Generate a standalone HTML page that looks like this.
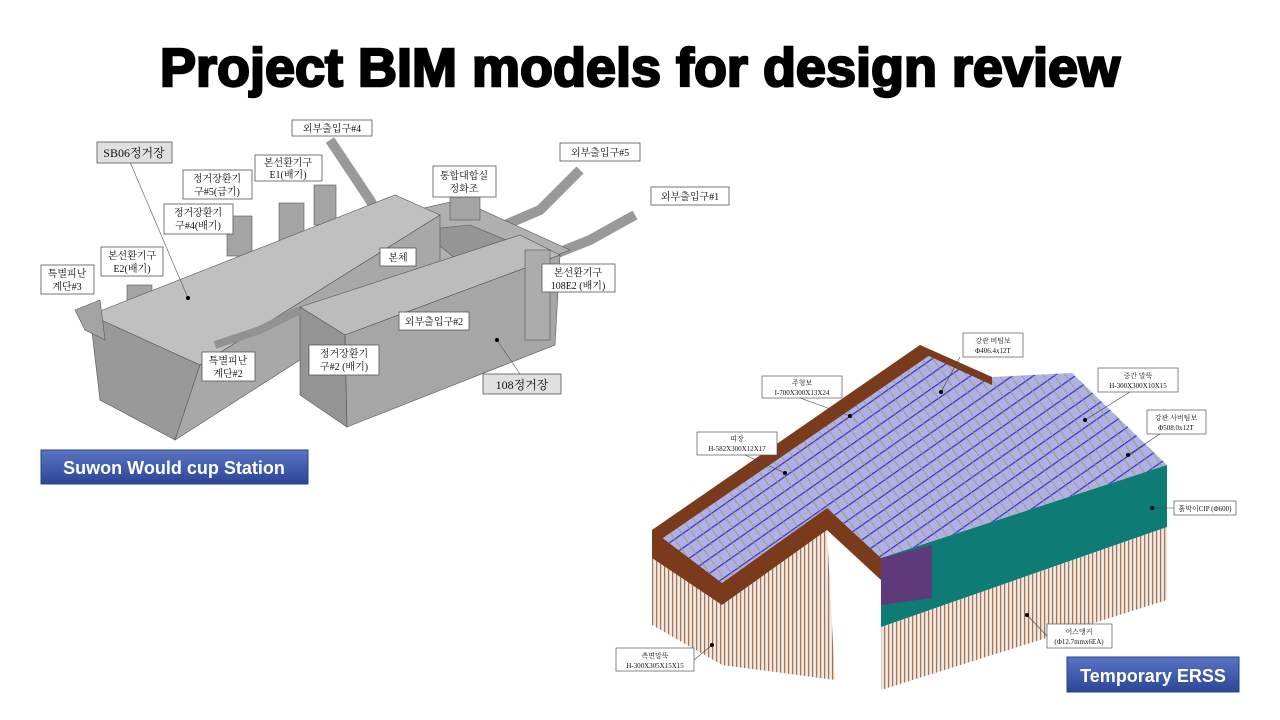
<!DOCTYPE html>
<html><head><meta charset="utf-8"><style>
html,body{margin:0;padding:0;background:#fff;}
svg{display:block}
.lb{font-family:"Liberation Serif","Noto Serif CJK SC","Noto Sans CJK KR",serif;font-size:10px;fill:#111;}
.ls{font-family:"Liberation Serif","Noto Serif CJK SC","Noto Sans CJK KR",serif;font-size:7px;fill:#111;}
</style></head><body>
<svg width="1280" height="720" viewBox="0 0 1280 720" xmlns="http://www.w3.org/2000/svg">
<defs>
<linearGradient id="bt" x1="0" y1="0" x2="0" y2="1"><stop offset="0" stop-color="#5a74c4"/><stop offset="1" stop-color="#2c4596"/></linearGradient>
<pattern id="piles" width="4" height="10" patternUnits="userSpaceOnUse"><rect width="4" height="10" fill="#efe6e0"/><rect x="0" width="1.2" height="10" fill="#a07258"/></pattern>
<pattern id="grid" width="9" height="12" patternUnits="userSpaceOnUse" patternTransform="rotate(-35)"><rect width="9" height="12" fill="#b0b0e4"/><rect width="9" height="1.2" fill="#3030c8"/><rect width="0.8" height="12" fill="#9a9a68"/></pattern>
</defs>
<rect width="1280" height="720" fill="#fff"/>
<text x="640" y="86" text-anchor="middle" textLength="960" lengthAdjust="spacingAndGlyphs" font-family="Liberation Sans, sans-serif" font-weight="bold" font-size="54" fill="#000" stroke="#000" stroke-width="2.4">Project BIM models for design review</text>

<!-- LEFT MODEL -->
<g stroke="#555" stroke-width="0.6">
<polyline points="330,140 370,200 385,225" fill="none" stroke="#999" stroke-width="10"/>
<polyline points="580,170 540,210 470,240 440,255" fill="none" stroke="#999" stroke-width="10"/>
<polyline points="635,215 590,240 540,260 500,275" fill="none" stroke="#999" stroke-width="10"/>
<polygon points="370,220 460,200 570,250 470,290 380,270" fill="#b0b0b0"/>
<polygon points="420,230 470,225 530,250 470,270" fill="#959595"/>
<rect x="227" y="216" width="25" height="40" fill="#a4a4a4"/>
<rect x="279" y="203" width="25" height="40" fill="#a4a4a4"/>
<rect x="314" y="185" width="22" height="40" fill="#a4a4a4"/>
<rect x="127" y="285" width="25" height="40" fill="#a4a4a4"/>
<rect x="450" y="195" width="30" height="25" fill="#a4a4a4"/>
<polygon points="90,315 395,195 440,215 200,365" fill="#c0c0c0"/>
<polygon points="90,315 200,365 175,440 100,400" fill="#999"/>
<polygon points="200,365 440,215 440,270 300,360 175,440" fill="#a8a8a8"/>
<polygon points="75,310 100,300 105,340 85,330" fill="#a4a4a4"/>
<polygon points="300,307 520,235 560,255 345,335" fill="#bcbcbc"/>
<polygon points="300,307 345,335 347,427 300,395" fill="#949494"/>
<polygon points="345,335 560,255 555,345 347,427" fill="#a6a6a6"/>
<rect x="525" y="250" width="25" height="90" fill="#acacac"/>
<polyline points="215,345 260,330 300,310" fill="none" stroke="#929292" stroke-width="8"/>
</g>
<g stroke="#555" stroke-width="0.6" fill="none">
<line x1="130" y1="162" x2="188" y2="298"/><line x1="497" y1="340" x2="520" y2="374"/>
</g>
<circle cx="188" cy="298" r="2" fill="#000"/><circle cx="497" cy="340" r="2" fill="#000"/>
<g stroke="#555" stroke-width="0.8" fill="#fff">
<rect x="292" y="120" width="80" height="16"/>
<rect x="97" y="142" width="75" height="21" fill="#e0e0e0"/>
<rect x="255" y="155" width="67" height="26"/>
<rect x="433" y="166" width="63" height="31"/>
<rect x="560" y="143" width="80" height="18"/>
<rect x="183" y="170" width="69" height="29"/>
<rect x="651" y="187" width="78" height="18"/>
<rect x="164" y="204" width="69" height="30"/>
<rect x="101" y="247" width="62" height="29"/>
<rect x="380" y="248" width="36" height="18"/>
<rect x="41" y="265" width="53" height="29"/>
<rect x="542" y="264" width="73" height="28"/>
<rect x="399" y="312" width="70" height="18"/>
<rect x="202" y="352" width="53" height="29"/>
<rect x="309" y="345" width="70" height="30"/>
<rect x="483" y="374" width="78" height="20" fill="#e0e0e0"/>
</g>
<g class="lb" text-anchor="middle">
<text x="332" y="132">외부출입구#4</text>
<text x="134" y="157" font-size="12">SB06정거장</text>
<text x="288" y="166">본선환기구</text><text x="288" y="178">E1(배기)</text>
<text x="464" y="179">통합대합실</text><text x="464" y="192">정화조</text>
<text x="600" y="156">외부출입구#5</text>
<text x="217" y="182">정거장환기</text><text x="217" y="195">구#5(급기)</text>
<text x="690" y="200">외부출입구#1</text>
<text x="198" y="216">정거장환기</text><text x="198" y="229">구#4(배기)</text>
<text x="132" y="259">본선환기구</text><text x="132" y="272">E2(배기)</text>
<text x="398" y="261">본체</text>
<text x="67" y="277">특별피난</text><text x="67" y="290">계단#3</text>
<text x="578" y="276">본선환기구</text><text x="578" y="289">108E2 (배기)</text>
<text x="434" y="325">외부출입구#2</text>
<text x="228" y="364">특별피난</text><text x="228" y="377">계단#2</text>
<text x="344" y="357">정거장환기</text><text x="344" y="370">구#2 (배기)</text>
<text x="522" y="389" font-size="12">108정거장</text>
</g>
<rect x="41" y="450" width="267" height="34" fill="url(#bt)" stroke="#2a3f88"/>
<text x="174" y="474" text-anchor="middle" font-family="Liberation Sans, sans-serif" font-weight="bold" font-size="18" fill="#fff">Suwon Would cup Station</text>

<!-- RIGHT MODEL -->
<polygon points="652,558 722,605 722,665 652,625" fill="url(#piles)"/>
<polygon points="722,605 827,530 835,680 722,665" fill="url(#piles)"/>
<polygon points="881,627 1167,527 1167,600 881,690" fill="url(#piles)"/>
<polygon points="652,530 920,345 992,377 1072,373 1167,465 881,558 827,508 722,583" fill="url(#grid)"/>
<polygon points="652,530 920,345 930,355 660,540" fill="#7a3a1c"/>
<polygon points="652,530 722,583 722,605 652,558" fill="#7a3a1c"/>
<polygon points="722,583 827,508 827,530 722,605" fill="#7a3a1c"/>
<polygon points="827,508 881,558 881,580 827,530" fill="#7a3a1c"/>
<polygon points="920,345 992,377 992,385 920,352" fill="#7a3a1c"/>
<polygon points="881,558 1167,465 1167,527 881,627" fill="#0e7b74"/>
<polygon points="881,558 932,545 932,598 881,605" fill="#5e3a7a"/>
<g stroke="#444" stroke-width="0.6" fill="none">
<line x1="960" y1="357" x2="941" y2="392"/><line x1="800" y1="398" x2="850" y2="416"/>
<line x1="1130" y1="392" x2="1085" y2="420"/><line x1="1160" y1="434" x2="1128" y2="455"/>
<line x1="745" y1="455" x2="785" y2="473"/><line x1="1174" y1="508" x2="1152" y2="508"/>
<line x1="1047" y1="636" x2="1027" y2="615"/><line x1="694" y1="660" x2="712" y2="645"/>
</g>
<g fill="#000"><circle cx="941" cy="392" r="2"/><circle cx="850" cy="416" r="2"/><circle cx="1085" cy="420" r="2"/><circle cx="1128" cy="455" r="2"/><circle cx="785" cy="473" r="2"/><circle cx="1152" cy="508" r="2"/><circle cx="1027" cy="615" r="2"/><circle cx="712" cy="645" r="2"/></g>
<g stroke="#555" stroke-width="0.7" fill="#fff">
<rect x="963" y="333" width="60" height="24"/>
<rect x="762" y="376" width="80" height="22"/>
<rect x="1098" y="368" width="80" height="24"/>
<rect x="1147" y="410" width="59" height="24"/>
<rect x="697" y="432" width="80" height="23"/>
<rect x="1174" y="501" width="62" height="14"/>
<rect x="1047" y="624" width="65" height="24"/>
<rect x="616" y="648" width="78" height="23"/>
</g>
<g class="ls" text-anchor="middle">
<text x="993" y="343">강관 버팀보</text><text x="993" y="353">Φ406.4x12T</text>
<text x="802" y="385">주형보</text><text x="802" y="395">I-700X300X13X24</text>
<text x="1138" y="378">중간 말뚝</text><text x="1138" y="388">H-300X300X10X15</text>
<text x="1176" y="420">강관 사버팀보</text><text x="1176" y="430">Φ508.0x12T</text>
<text x="737" y="441">띠장</text><text x="737" y="451">H-582X300X12X17</text>
<text x="1205" y="511">흙막이CIP (Φ600)</text>
<text x="1079" y="634">어스앵커</text><text x="1079" y="644">(Φ12.7mmx6EA)</text>
<text x="655" y="658">측면말뚝</text><text x="655" y="668">H-300X305X15X15</text>
</g>
<rect x="1067" y="657" width="172" height="35" fill="url(#bt)" stroke="#2a3f88"/>
<text x="1153" y="682" text-anchor="middle" font-family="Liberation Sans, sans-serif" font-weight="bold" font-size="18" fill="#fff">Temporary ERSS</text>
</svg>
</body></html>
